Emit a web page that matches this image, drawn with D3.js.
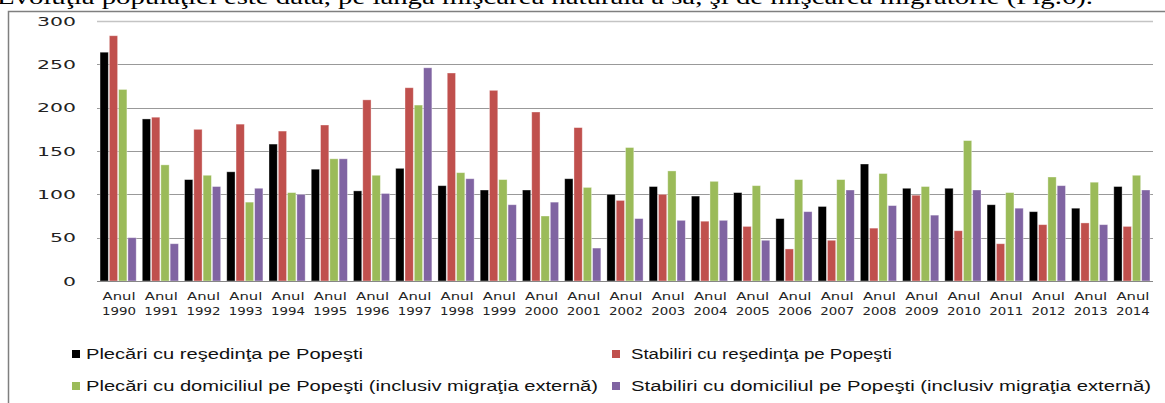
<!DOCTYPE html>
<html>
<head>
<meta charset="utf-8">
<script src="https://cdn.jsdelivr.net/npm/d3@7"></script>
<style>
  body { margin: 0; background: #fff; }
  svg { display: block; }
</style>
</head>
<body>
<div id="chart"></div>
<script>
// categories and series
const years = [1990, 1991, 1992, 1993, 1994, 1995, 1996, 1997, 1998, 1999, 2000, 2001, 2002,
               2003, 2004, 2005, 2006, 2007, 2008, 2009, 2010, 2011, 2012, 2013, 2014];
const plecariResedinta = [264, 187, 117, 126, 158, 129, 104, 130, 110, 105, 105, 118, 100,
                          109, 98, 102, 72, 86, 135, 107, 107, 88, 80, 84, 109];
const stabiliriResedinta = [283, 189, 175, 181, 173, 180, 209, 223, 240, 220, 195, 177, 93,
                            100, 69, 63, 37, 47, 61, 99, 58, 43, 65, 67, 63];
const plecariDomiciliu = [221, 134, 122, 91, 102, 141, 122, 203, 125, 117, 75, 108, 154,
                          127, 115, 110, 117, 117, 124, 109, 162, 102, 120, 114, 122];
const stabiliriDomiciliu = [50, 43, 109, 107, 100, 141, 101, 246, 118, 88, 91, 38, 72,
                            70, 70, 47, 80, 105, 87, 76, 105, 84, 110, 65, 105];
const seriesNames = [
  "Plecări cu reşedinţa pe Popeşti",
  "Stabiliri cu reşedinţa pe Popeşti",
  "Plecări cu domiciliul pe Popeşti (inclusiv migraţia externă)",
  "Stabiliri cu domiciliul pe Popeşti (inclusiv migraţia externă)"
];
const yTicks = [0, 50, 100, 150, 200, 250, 300];

const colors = ["#000000", "#C0504D", "#9BBB59", "#8064A2"];
const allSeries = [plecariResedinta, stabiliriResedinta, plecariDomiciliu, stabiliriDomiciliu];

const width = 1165, height = 403;
const plot = { left: 97, right: 1153, top: 21, bottom: 281 };

const svg = d3.select("#chart").append("svg")
    .attr("width", width)
    .attr("height", height);

svg.append("rect").attr("width", width).attr("height", height).attr("fill", "#fff");

// the line of document text cut at the top
svg.append("text")
    .attr("x", -3).attr("y", 4)
    .attr("font-family", "Liberation Serif")
    .attr("font-size", 20)
    .attr("textLength", 1096)
    .attr("lengthAdjust", "spacingAndGlyphs")
    .text("Evoluţia populaţiei este dată, pe lângă mişcarea naturală a sa, şi de mişcarea migratorie (Fig.6).");

// chart frame
svg.append("rect")
    .attr("x", 8.5).attr("y", 11.5)
    .attr("width", 1200).attr("height", 420)
    .attr("fill", "none")
    .attr("stroke", "#7f7f7f")
    .attr("stroke-width", 1.5);

const x0 = d3.scaleBand()
    .domain(years)
    .range([plot.left, plot.right])
    .paddingInner(0.12)
    .paddingOuter(0.06);

const x1 = d3.scaleBand()
    .domain(d3.range(4))
    .range([0, x0.bandwidth()]);

const y = d3.scaleLinear()
    .domain([0, 300])
    .range([plot.bottom, plot.top]);

// gridlines
svg.append("g")
    .selectAll("line")
    .data(yTicks.filter(d => d > 0))
    .join("line")
    .attr("x1", plot.left).attr("x2", plot.right)
    .attr("y1", d => Math.round(y(d)) + 0.5)
    .attr("y2", d => Math.round(y(d)) + 0.5)
    .attr("stroke", d => d === 300 ? "#c4c4c4" : "#999999")
    .attr("stroke-width", d => d === 300 ? 1.5 : 1);

// y labels
svg.append("g")
    .selectAll("text")
    .data(yTicks)
    .join("text")
    .attr("x", 76)
    .attr("y", d => y(d))
    .attr("dy", "0.36em")
    .attr("text-anchor", "end")
    .attr("font-family", "DejaVu Sans")
    .attr("font-size", 13)
    .attr("fill", "#222")
    .attr("textLength", d => String(d).length * 13)
    .attr("lengthAdjust", "spacingAndGlyphs")
    .text(d => d);

// bars
const groups = svg.append("g")
    .selectAll("g")
    .data(years)
    .join("g")
    .attr("transform", d => "translate(" + x0(d) + ",0)");

groups.selectAll("rect")
    .data((d, i) => allSeries.map((s, k) => ({ k: k, v: s[i] })))
    .join("rect")
    .attr("x", d => x1(d.k) + 0.5)
    .attr("width", x1.bandwidth() - 1)
    .attr("y", d => y(d.v))
    .attr("height", d => y(0) - y(d.v))
    .attr("fill", d => colors[d.k])
    .attr("stroke", "#ffffff")
    .attr("stroke-opacity", 0.45)
    .attr("stroke-width", 0.8);

// baseline
svg.append("line")
    .attr("x1", plot.left).attr("x2", plot.right)
    .attr("y1", plot.bottom + 0.5).attr("y2", plot.bottom + 0.5)
    .attr("stroke", "#868686");

// x labels, two lines each
const xl = svg.append("g")
    .selectAll("g")
    .data(years)
    .join("g")
    .attr("transform", d => "translate(" + (x0(d) + x0.bandwidth() / 2 + 1) + ",0)")
    .attr("font-family", "DejaVu Sans")
    .attr("font-size", 10.5)
    .attr("fill", "#222")
    .attr("text-anchor", "middle");

xl.append("text")
    .attr("y", 300)
    .attr("textLength", 33)
    .attr("lengthAdjust", "spacingAndGlyphs")
    .text("Anul");

xl.append("text")
    .attr("y", 315)
    .attr("textLength", 34)
    .attr("lengthAdjust", "spacingAndGlyphs")
    .text(d => d);

// legend, 2 x 2
const legendPos = [
  { x: 72, y: 354, len: 277 },
  { x: 612, y: 354, len: 261 },
  { x: 72, y: 386, len: 512 },
  { x: 612, y: 386, len: 520 }
];

const legend = svg.append("g")
    .selectAll("g")
    .data(seriesNames)
    .join("g")
    .attr("transform", (d, i) => "translate(" + legendPos[i].x + "," + legendPos[i].y + ")");

legend.append("rect")
    .attr("x", 0).attr("y", -4)
    .attr("width", 8).attr("height", 8)
    .attr("fill", (d, i) => colors[i]);

legend.append("text")
    .attr("x", (d, i) => i % 2 === 0 ? 14 : 19)
    .attr("y", 5)
    .attr("font-family", "Liberation Sans")
    .attr("font-size", 14)
    .attr("fill", "#111")
    .attr("textLength", (d, i) => legendPos[i].len)
    .attr("lengthAdjust", "spacingAndGlyphs")
    .text(d => d);
</script>
</body>
</html>
